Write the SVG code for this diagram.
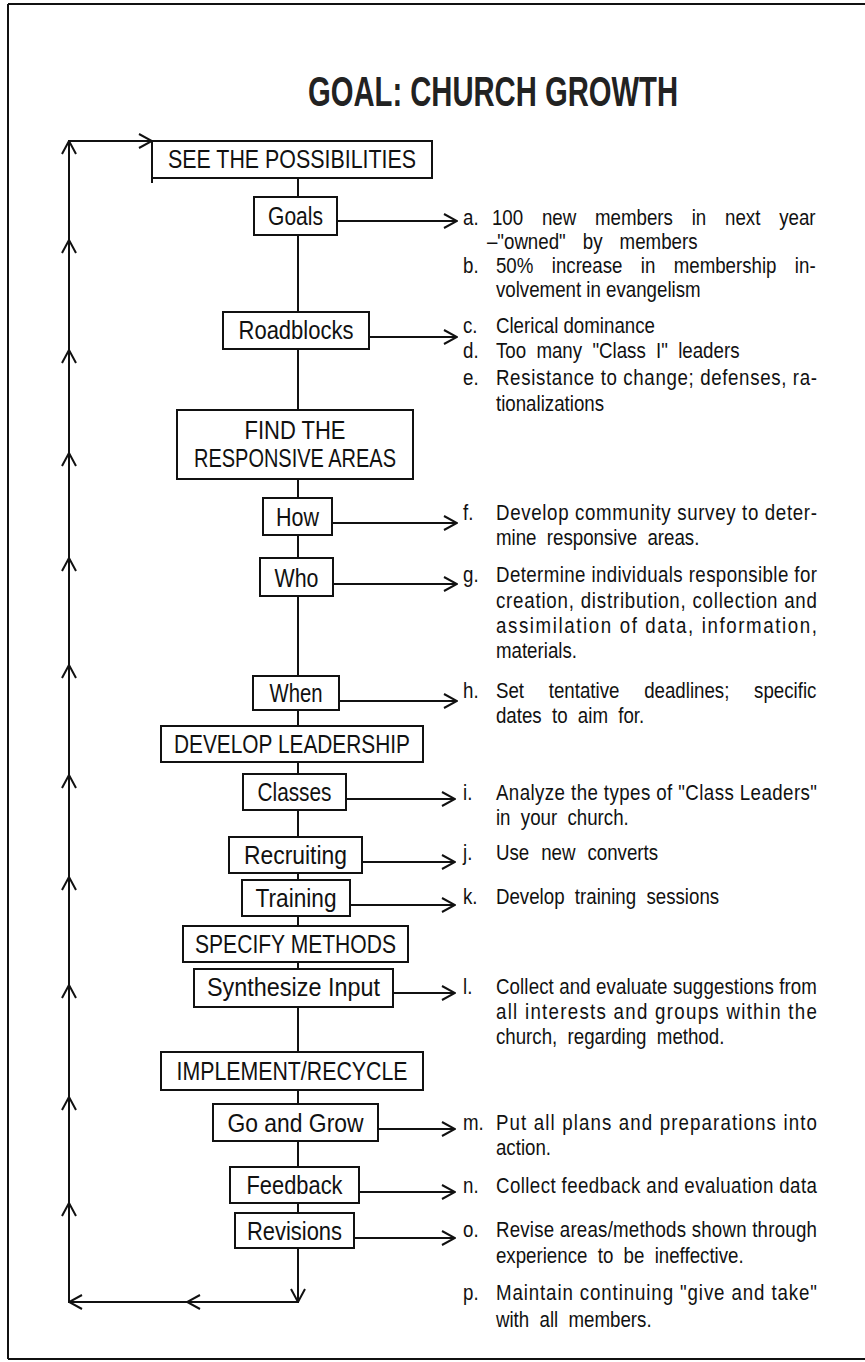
<svg xmlns="http://www.w3.org/2000/svg" width="865" height="1362" viewBox="0 0 865 1362">
<style>
  .bx{fill:#fff;stroke:#111;stroke-width:2}
  .ln{fill:none;stroke:#111;stroke-width:2}
  .nt{font-family:"Liberation Sans",Arial,sans-serif;font-size:25px;fill:#111;text-anchor:middle}
  .t{font-family:"Liberation Sans",Arial,sans-serif;font-size:22px;fill:#111}
  .ti{font-family:"Liberation Sans",Arial,sans-serif;font-size:43px;font-weight:bold;fill:#222;text-anchor:middle}
</style>
<defs>
  <marker id="ah" viewBox="0 0 15 16" refX="14" refY="8" markerWidth="15" markerHeight="16" markerUnits="userSpaceOnUse" orient="auto">
    <path d="M1,1 L14,8 L1,15" fill="none" stroke="#111" stroke-width="2"/>
  </marker>
</defs>
<rect width="865" height="1362" fill="#fff"/>
<g id="border">
  <path class="ln" d="M8,4 L865,4 M8,4 L8,1359 M8,1359 L865,1359" stroke-width="2.5"/>
</g>
<g id="title">
  <text class="ti" x="493" y="106" textLength="370" lengthAdjust="spacingAndGlyphs">GOAL: CHURCH GROWTH</text>
</g>
<g id="connectors">
  <path class="ln" d="M298,178 L298,1302 L69,1302 L69,141 L152,141"/>
  <path class="ln" d="M298,1286 L298,1302" marker-end="url(#ah)"/>
  <path class="ln" d="M140,141 L152,141" marker-end="url(#ah)"/>
  <path class="ln" d="M90,1302 L69,1302" marker-end="url(#ah)"/>
  <path class="ln" d="M200,1302 L187,1302" marker-end="url(#ah)"/>
  <path class="ln" d="M69,160 L69,141" marker-end="url(#ah)"/>
  <path class="ln" d="M69,252 L69,240" marker-end="url(#ah)"/>
  <path class="ln" d="M69,362 L69,350" marker-end="url(#ah)"/>
  <path class="ln" d="M69,465 L69,453" marker-end="url(#ah)"/>
  <path class="ln" d="M69,570 L69,558" marker-end="url(#ah)"/>
  <path class="ln" d="M69,677 L69,665" marker-end="url(#ah)"/>
  <path class="ln" d="M69,787 L69,775" marker-end="url(#ah)"/>
  <path class="ln" d="M69,889 L69,877" marker-end="url(#ah)"/>
  <path class="ln" d="M69,997 L69,985" marker-end="url(#ah)"/>
  <path class="ln" d="M69,1109 L69,1097" marker-end="url(#ah)"/>
  <path class="ln" d="M69,1215 L69,1203" marker-end="url(#ah)"/>
  <path class="ln" d="M337,221 L457,221" marker-end="url(#ah)"/>
  <path class="ln" d="M369,337 L457,337" marker-end="url(#ah)"/>
  <path class="ln" d="M332,523 L457,523" marker-end="url(#ah)"/>
  <path class="ln" d="M333,584 L457,584" marker-end="url(#ah)"/>
  <path class="ln" d="M339,701 L457,701" marker-end="url(#ah)"/>
  <path class="ln" d="M346,799 L455,799" marker-end="url(#ah)"/>
  <path class="ln" d="M362,862 L455,862" marker-end="url(#ah)"/>
  <path class="ln" d="M350,905 L455,905" marker-end="url(#ah)"/>
  <path class="ln" d="M393,993 L455,993" marker-end="url(#ah)"/>
  <path class="ln" d="M378,1129 L455,1129" marker-end="url(#ah)"/>
  <path class="ln" d="M359,1192 L455,1192" marker-end="url(#ah)"/>
  <path class="ln" d="M354,1238 L455,1238" marker-end="url(#ah)"/>
</g>
<g id="see">
  <rect class="bx" x="152" y="141" width="280" height="37"/>
  <path class="ln" d="M152,178 L152,183"/>
  <text class="nt" x="292" y="168" textLength="248" lengthAdjust="spacingAndGlyphs">SEE THE POSSIBILITIES</text>
</g>
<g id="goals">
  <rect class="bx" x="254" y="197" width="83" height="38"/>
  <text class="nt" x="295.5" y="225" textLength="55" lengthAdjust="spacingAndGlyphs">Goals</text>
</g>
<g id="roadblocks">
  <rect class="bx" x="223" y="312" width="146" height="37"/>
  <text class="nt" x="296" y="339" textLength="115" lengthAdjust="spacingAndGlyphs">Roadblocks</text>
</g>
<g id="find">
  <rect class="bx" x="177" y="410" width="236" height="69"/>
  <text class="nt" x="295" y="439" textLength="101" lengthAdjust="spacingAndGlyphs">FIND THE</text>
  <text class="nt" x="295" y="467" textLength="202" lengthAdjust="spacingAndGlyphs">RESPONSIVE AREAS</text>
</g>
<g id="how">
  <rect class="bx" x="263" y="498" width="69" height="37"/>
  <text class="nt" x="297.5" y="526" textLength="43" lengthAdjust="spacingAndGlyphs">How</text>
</g>
<g id="who">
  <rect class="bx" x="260" y="558" width="73" height="38"/>
  <text class="nt" x="296.5" y="587" textLength="44" lengthAdjust="spacingAndGlyphs">Who</text>
</g>
<g id="when">
  <rect class="bx" x="253" y="676" width="86" height="34"/>
  <text class="nt" x="296" y="702" textLength="53" lengthAdjust="spacingAndGlyphs">When</text>
</g>
<g id="develop">
  <rect class="bx" x="161" y="726" width="262" height="36"/>
  <text class="nt" x="292" y="753" textLength="236" lengthAdjust="spacingAndGlyphs">DEVELOP LEADERSHIP</text>
</g>
<g id="classes">
  <rect class="bx" x="243" y="774" width="103" height="36"/>
  <text class="nt" x="294.5" y="801" textLength="74" lengthAdjust="spacingAndGlyphs">Classes</text>
</g>
<g id="recruiting">
  <rect class="bx" x="229" y="837" width="133" height="36"/>
  <text class="nt" x="295.5" y="864" textLength="103" lengthAdjust="spacingAndGlyphs">Recruiting</text>
</g>
<g id="training">
  <rect class="bx" x="242" y="880" width="108" height="36"/>
  <text class="nt" x="296" y="907" textLength="81" lengthAdjust="spacingAndGlyphs">Training</text>
</g>
<g id="specify">
  <rect class="bx" x="183" y="926" width="225" height="36"/>
  <text class="nt" x="295.5" y="953" textLength="201" lengthAdjust="spacingAndGlyphs">SPECIFY METHODS</text>
</g>
<g id="synthesize">
  <rect class="bx" x="194" y="969" width="199" height="38"/>
  <text class="nt" x="293.5" y="996" textLength="173" lengthAdjust="spacingAndGlyphs">Synthesize Input</text>
</g>
<g id="implement">
  <rect class="bx" x="161" y="1052" width="262" height="38"/>
  <text class="nt" x="292" y="1080" textLength="231" lengthAdjust="spacingAndGlyphs">IMPLEMENT/RECYCLE</text>
</g>
<g id="goandgrow">
  <rect class="bx" x="213" y="1104" width="165" height="37"/>
  <text class="nt" x="295.5" y="1132" textLength="136" lengthAdjust="spacingAndGlyphs">Go and Grow</text>
</g>
<g id="feedback">
  <rect class="bx" x="230" y="1167" width="129" height="36"/>
  <text class="nt" x="294.5" y="1194" textLength="96" lengthAdjust="spacingAndGlyphs">Feedback</text>
</g>
<g id="revisions">
  <rect class="bx" x="235" y="1213" width="119" height="35"/>
  <text class="nt" x="294.5" y="1240" textLength="95" lengthAdjust="spacingAndGlyphs">Revisions</text>
</g>
<g id="notes" transform="scale(0.85,1)">
  <text class="t" x="544.7" y="225">a.</text>
  <text class="t" x="578.8" y="225" word-spacing="16">100 new members in next year</text>
  <text class="t" x="572.9" y="249" word-spacing="14">–"owned" by members</text>
  <text class="t" x="544.7" y="273">b.</text>
  <text class="t" x="583.5" y="273" word-spacing="15.5">50% increase in membership in-</text>
  <text class="t" x="583.5" y="297">volvement in evangelism</text>
  <text class="t" x="544.7" y="333">c.</text>
  <text class="t" x="583.5" y="333">Clerical dominance</text>
  <text class="t" x="544.7" y="358">d.</text>
  <text class="t" x="583.5" y="358" word-spacing="6">Too many "Class I" leaders</text>
  <text class="t" x="544.7" y="385">e.</text>
  <text class="t" x="583.5" y="385" textLength="377.6" lengthAdjust="spacing">Resistance to change; defenses, ra-</text>
  <text class="t" x="583.5" y="411">tionalizations</text>
  <text class="t" x="544.7" y="520">f.</text>
  <text class="t" x="583.5" y="520" textLength="377.6" lengthAdjust="spacing">Develop community survey to deter-</text>
  <text class="t" x="583.5" y="545" word-spacing="6">mine responsive areas.</text>
  <text class="t" x="544.7" y="582">g.</text>
  <text class="t" x="583.5" y="582" textLength="377.6" lengthAdjust="spacing">Determine individuals responsible for</text>
  <text class="t" x="583.5" y="608" textLength="377.6" lengthAdjust="spacing">creation, distribution, collection and</text>
  <text class="t" x="583.5" y="633" textLength="377.6" lengthAdjust="spacing">assimilation of data, information,</text>
  <text class="t" x="583.5" y="658">materials.</text>
  <text class="t" x="544.7" y="698">h.</text>
  <text class="t" x="583.5" y="698" word-spacing="23">Set tentative deadlines; specific</text>
  <text class="t" x="583.5" y="723" word-spacing="6">dates to aim for.</text>
  <text class="t" x="544.7" y="800">i.</text>
  <text class="t" x="583.5" y="800" textLength="377.6" lengthAdjust="spacing">Analyze the types of "Class Leaders"</text>
  <text class="t" x="583.5" y="825" word-spacing="6">in your church.</text>
  <text class="t" x="544.7" y="860">j.</text>
  <text class="t" x="583.5" y="860" word-spacing="8">Use new converts</text>
  <text class="t" x="544.7" y="904">k.</text>
  <text class="t" x="583.5" y="904" word-spacing="6">Develop training sessions</text>
  <text class="t" x="544.7" y="994">l.</text>
  <text class="t" x="583.5" y="994" textLength="377.6" lengthAdjust="spacing">Collect and evaluate suggestions from</text>
  <text class="t" x="583.5" y="1019" textLength="377.6" lengthAdjust="spacing">all interests and groups within the</text>
  <text class="t" x="583.5" y="1044" word-spacing="6">church, regarding method.</text>
  <text class="t" x="544.7" y="1130">m.</text>
  <text class="t" x="583.5" y="1130" textLength="377.6" lengthAdjust="spacing">Put all plans and preparations into</text>
  <text class="t" x="583.5" y="1155">action.</text>
  <text class="t" x="544.7" y="1193">n.</text>
  <text class="t" x="583.5" y="1193" textLength="377.6" lengthAdjust="spacing">Collect feedback and evaluation data</text>
  <text class="t" x="544.7" y="1237">o.</text>
  <text class="t" x="583.5" y="1237" textLength="377.6" lengthAdjust="spacing">Revise areas/methods shown through</text>
  <text class="t" x="583.5" y="1263" word-spacing="6">experience to be ineffective.</text>
  <text class="t" x="544.7" y="1300">p.</text>
  <text class="t" x="583.5" y="1300" textLength="377.6" lengthAdjust="spacing">Maintain continuing "give and take"</text>
  <text class="t" x="583.5" y="1327" word-spacing="6">with all members.</text>
</g>
</svg>
